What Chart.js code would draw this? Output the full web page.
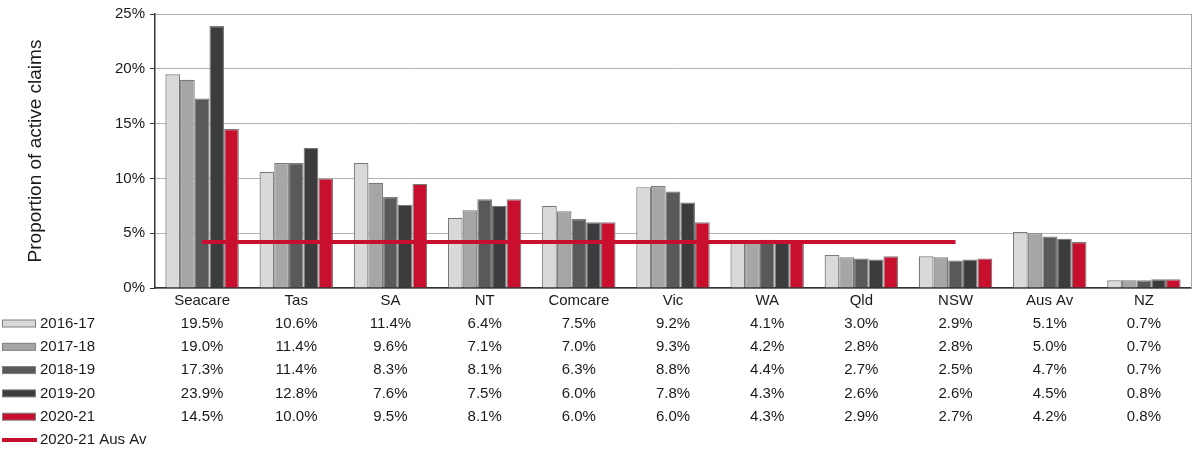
<!DOCTYPE html>
<html>
<head>
<meta charset="utf-8">
<script src="https://cdn.jsdelivr.net/npm/chart.js@4/dist/chart.umd.min.js"></script>
<style>
  html, body { margin: 0; padding: 0; background: #fff; }
  #wrap { width: 1192px; height: 450px; }
</style>
</head>
<body>
<div id="wrap"><canvas id="grafico" width="1192" height="450"></canvas></div>
<script>
// Dados do gráfico
const categorias = ['Seacare', 'Tas', 'SA', 'NT', 'Comcare', 'Vic', 'WA', 'Qld', 'NSW', 'Aus Av', 'NZ'];
const anos = ['2016-17', '2017-18', '2018-19', '2019-20', '2020-21'];
const v2016 = [19.5, 10.6, 11.4, 6.4, 7.5, 9.2, 4.1, 3.0, 2.9, 5.1, 0.7];
const v2017 = [19.0, 11.4, 9.6, 7.1, 7.0, 9.3, 4.2, 2.8, 2.8, 5.0, 0.7];
const v2018 = [17.3, 11.4, 8.3, 8.1, 6.3, 8.8, 4.4, 2.7, 2.5, 4.7, 0.7];
const v2019 = [23.9, 12.8, 7.6, 7.5, 6.0, 7.8, 4.3, 2.6, 2.6, 4.5, 0.8];
const v2020 = [14.5, 10.0, 9.5, 8.1, 6.0, 6.0, 4.3, 2.9, 2.7, 4.2, 0.8];
const mediaAus = [4.2, 4.2, 4.2, 4.2, 4.2, 4.2, 4.2, 4.2, 4.2, null, null];
const rotuloMedia = '2020-21 Aus Av';
const ticksY = [0, 5, 10, 15, 20, 25];

const valores = [v2016, v2017, v2018, v2019, v2020];
const cores = ['#d9d9d9', '#a6a6a6', '#58595b', '#3c3c3e', '#c8102e'];
const vermelho = '#c8102e';
const fonte = '"Liberation Sans", Arial, sans-serif';

// Tabela de dados abaixo do eixo
const tabelaPlugin = {
  id: 'tabela',
  afterDraw(chart) {
    const ctx = chart.ctx;
    const x = chart.scales.x;
    const area = chart.chartArea;
    ctx.save();

    // borda direita do gráfico
    ctx.strokeStyle = '#a6a6a6';
    ctx.lineWidth = 1;
    ctx.beginPath();
    ctx.moveTo(area.right + 0.5, area.top);
    ctx.lineTo(area.right + 0.5, area.bottom);
    ctx.stroke();

    ctx.font = '15px ' + fonte;
    ctx.textBaseline = 'middle';
    const y0 = 323.5;
    const passo = 23.3;
    anos.forEach((ano, r) => {
      const y = y0 + r * passo;
      ctx.fillStyle = cores[r];
      ctx.fillRect(2, y - 3.5, 33, 7);
      ctx.strokeStyle = '#7f7f7f';
      ctx.strokeRect(2.5, y - 3.5, 33, 7);
      ctx.fillStyle = '#1a1a1a';
      ctx.textAlign = 'left';
      ctx.fillText(ano, 40, y);
      ctx.textAlign = 'center';
      valores[r].forEach((v, i) => {
        ctx.fillText(v.toFixed(1) + '%', x.getPixelForValue(i), y);
      });
    });
    const yl = y0 + anos.length * passo;
    ctx.strokeStyle = vermelho;
    ctx.lineWidth = 4;
    ctx.beginPath();
    ctx.moveTo(2, yl);
    ctx.lineTo(37, yl);
    ctx.stroke();
    ctx.fillStyle = '#1a1a1a';
    ctx.textAlign = 'left';
    ctx.fillText(rotuloMedia, 40, yl);
    ctx.restore();
  }
};

const datasets = anos.map((ano, i) => ({
  type: 'bar',
  label: ano,
  data: valores[i],
  backgroundColor: cores[i],
  borderColor: '#7a7a7a',
  borderWidth: 1.2,
  categoryPercentage: 0.78,
  barPercentage: 1.0,
  order: 1
}));
datasets.push({
  type: 'line',
  label: rotuloMedia,
  data: mediaAus,
  borderColor: vermelho,
  borderWidth: 4,
  pointRadius: 0,
  spanGaps: false,
  fill: false,
  order: 0
});

new Chart(document.getElementById('grafico').getContext('2d'), {
  data: { labels: categorias, datasets: datasets },
  options: {
    responsive: false,
    animation: false,
    layout: { padding: { left: 0, right: 1, top: 9, bottom: 138 } },
    plugins: {
      legend: { display: false },
      tooltip: { enabled: false }
    },
    scales: {
      x: {
        grid: { display: false, drawTicks: false },
        border: { color: '#333', width: 1.5 },
        ticks: { font: { family: fonte, size: 15 }, color: '#1a1a1a', padding: 4, maxRotation: 0, autoSkip: false },
        afterFit(scale) { scale.height = 24; }
      },
      y: {
        min: 0,
        max: 25,
        afterBuildTicks(scale) { scale.ticks = ticksY.map(v => ({ value: v })); },
        grid: { color: '#b3b3b3', tickColor: '#333', tickLength: 5, lineWidth: 1 },
        border: { color: '#333', width: 1.5 },
        ticks: {
          font: { family: fonte, size: 15 },
          color: '#1a1a1a',
          padding: 5,
          callback: v => v + '%'
        },
        title: {
          display: true,
          text: 'Proportion of active claims',
          font: { family: fonte, size: 19 },
          color: '#1a1a1a',
          padding: { top: 24, bottom: 0 }
        },
        afterFit(scale) { scale.width = 155; }
      }
    }
  },
  plugins: [tabelaPlugin]
});
</script>
</body>
</html>
